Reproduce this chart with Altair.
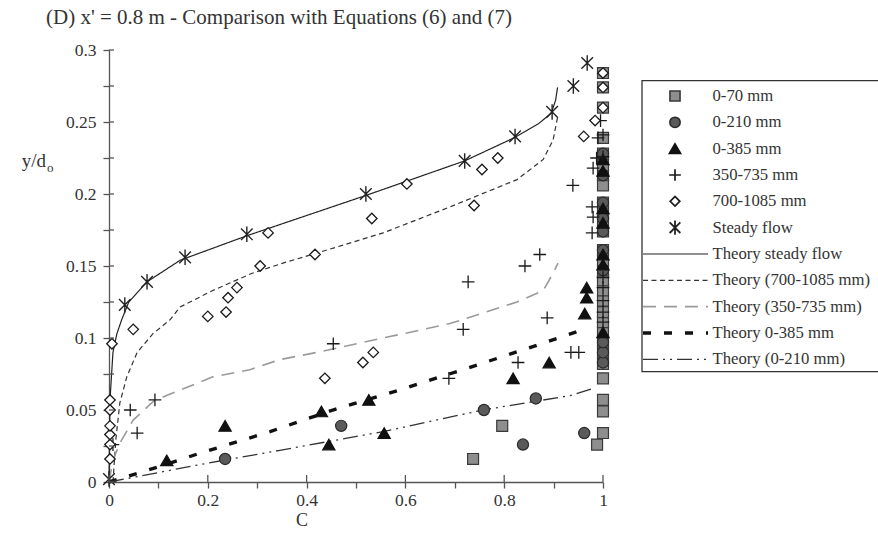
import altair as alt
import pandas as pd

# ---------------- measured profiles: concentration C vs depth y/d_o ----------------
series = ["0-70 mm", "0-210 mm", "0-385 mm", "350-735 mm", "700-1085 mm", "Steady flow"]

c_70 = [0.737, 0.796, 0.988, 1.0, 1.0, 1.0, 1.0, 1.0, 1.0, 1.0, 1.0, 1.0, 1.0, 1.0, 1.0, 1.0,
        1.0, 1.0, 1.0, 1.0, 1.0, 1.0, 1.0, 1.0, 1.0, 1.0, 1.0, 1.0, 1.0, 1.0, 1.0]
y_70 = [0.016, 0.039, 0.026, 0.034, 0.049, 0.057, 0.072, 0.082, 0.090, 0.097, 0.104, 0.111,
        0.118, 0.126, 0.133, 0.140, 0.147, 0.154, 0.161, 0.174, 0.180, 0.187, 0.194, 0.206,
        0.213, 0.220, 0.228, 0.239, 0.260, 0.274, 0.284]

c_210 = [0.235, 0.470, 0.759, 0.838, 0.864, 0.962, 1.0, 1.0, 1.0, 1.0, 1.0, 1.0, 1.0, 1.0,
         1.0, 1.0]
y_210 = [0.016, 0.039, 0.050, 0.026, 0.058, 0.034, 0.083, 0.090, 0.097, 0.147, 0.161, 0.174,
         0.183, 0.194, 0.213, 0.228]

c_385 = [0.117, 0.235, 0.430, 0.445, 0.526, 0.557, 0.818, 0.891, 0.967, 0.967, 0.963, 1.0,
         1.0, 1.0, 1.0, 1.0, 1.0, 1.0]
y_385 = [0.015, 0.039, 0.049, 0.026, 0.057, 0.034, 0.072, 0.083, 0.135, 0.128, 0.117, 0.104,
         0.151, 0.158, 0.180, 0.190, 0.216, 0.224]

c_350 = [0.008, 0.043, 0.057, 0.093, 0.454, 0.688, 0.717, 0.727, 0.828, 0.842, 0.872, 0.887,
         0.935, 0.951, 0.939, 0.978, 0.980, 0.978, 0.980, 0.987, 0.990, 0.995, 1.0, 1.0,
         1.0, 1.0, 1.0, 1.0, 1.0]
y_350 = [0.026, 0.050, 0.034, 0.057, 0.096, 0.072, 0.106, 0.139, 0.083, 0.150, 0.158, 0.114,
         0.090, 0.090, 0.206, 0.191, 0.184, 0.173, 0.218, 0.225, 0.239, 0.251, 0.241, 0.226,
         0.142, 0.135, 0.126, 0.118, 0.111]

c_700 = [0.002, 0.002, 0.002, 0.002, 0.002, 0.002, 0.006, 0.049, 0.200, 0.237, 0.241, 0.259,
         0.306, 0.322, 0.417, 0.437, 0.514, 0.535, 0.532, 0.603, 0.739, 0.755, 0.787, 0.961,
         0.984, 1.0, 1.0, 1.0]
y_700 = [0.016, 0.026, 0.033, 0.039, 0.050, 0.057, 0.096, 0.106, 0.115, 0.118, 0.128, 0.135,
         0.150, 0.173, 0.158, 0.072, 0.083, 0.090, 0.183, 0.207, 0.192, 0.217, 0.225, 0.240,
         0.251, 0.260, 0.274, 0.284]

c_sf = [0.0, 0.032, 0.077, 0.154, 0.279, 0.520, 0.720, 0.822, 0.897, 0.940, 0.968]
y_sf = [0.002, 0.123, 0.139, 0.156, 0.172, 0.200, 0.223, 0.240, 0.257, 0.275, 0.291]

# ---------------- theoretical curves, Equations (6) and (7) ----------------
theories = ["Theory steady flow", "Theory (700-1085 mm)", "Theory (350-735 mm)",
            "Theory 0-385 mm", "Theory (0-210 mm)"]

tc_sf = [0.0, 0.001, 0.002, 0.008, 0.016, 0.026, 0.040, 0.077, 0.144, 0.279, 0.520, 0.720,
         0.820, 0.870, 0.895, 0.904, 0.908]
ty_sf = [0.0, 0.030, 0.057, 0.090, 0.103, 0.113, 0.125, 0.139, 0.154, 0.171, 0.199, 0.223,
         0.239, 0.249, 0.256, 0.265, 0.274]

tc_700 = [0.008, 0.014, 0.022, 0.036, 0.057, 0.089, 0.123, 0.144, 0.210, 0.290, 0.352, 0.421,
          0.555, 0.690, 0.826, 0.879, 0.899, 0.909]
ty_700 = [0.0, 0.030, 0.055, 0.073, 0.090, 0.103, 0.1125, 0.1215, 0.133, 0.145, 0.152, 0.159,
          0.173, 0.191, 0.210, 0.224, 0.2375, 0.255]

tc_350 = [0.0, 0.008, 0.022, 0.049, 0.093, 0.109, 0.210, 0.285, 0.346, 0.421, 0.555, 0.690,
          0.790, 0.826, 0.879, 0.899, 0.909]
ty_350 = [0.0, 0.015, 0.027, 0.043, 0.057, 0.059, 0.073, 0.078, 0.085, 0.090, 0.100, 0.110,
          0.121, 0.125, 0.133, 0.145, 0.152]

tc_385 = [0.0, 0.100, 0.184, 0.326, 0.453, 0.589, 0.725, 0.858, 0.970]
ty_385 = [0.0, 0.0105, 0.020, 0.035, 0.050, 0.064, 0.079, 0.094, 0.107]

tc_210 = [0.0, 0.198, 0.346, 0.555, 0.757, 0.933, 0.980]
ty_210 = [0.0, 0.013, 0.022, 0.035, 0.050, 0.060, 0.065]

# axis tick positions
x_ticks = [0.0, 0.1, 0.2, 0.3, 0.4, 0.5, 0.6, 0.7, 0.8, 0.9, 1.0]
x_major = [0.0, 0.2, 0.4, 0.6, 0.8, 1.0]
y_ticks = [0.0, 0.025, 0.05, 0.075, 0.1, 0.125, 0.15, 0.175, 0.2, 0.225, 0.25, 0.275, 0.3]

# ---------------- styles ----------------
PLUS = "M-1,0H1M0,-1V1"
STAR = "M-0.75,-0.75L0.75,0.75M-0.75,0.75L0.75,-0.75M0,-1V1"

pt_shapes = ["square", "circle", "triangle-up", PLUS, "diamond", STAR]
pt_fills = ["#8e8e8e", "#5a5a5a", "#111111", "transparent", "#ffffff", "transparent"]
pt_strokes = ["#3a3a3a", "#2a2a2a", "#111111", "#1a1a1a", "#1a1a1a", "#222222"]
pt_sizes = [120, 125, 150, 160, 110, 240]
pt_widths = [1.2, 1.2, 1.2, 1.3, 1.3, 1.4]

ln_colors = ["#222222", "#333333", "#9a9a9a", "#111111", "#333333"]
ln_widths = [1.2, 1.2, 1.6, 3.4, 1.3]
ln_dashes = [[1, 0], [5, 3.5], [13, 8], [8, 13], [15, 5, 2, 5, 2, 5]]

FONT = "Liberation Serif"
INK = "#333333"
AX = "#555555"

# ---------------- tables ----------------
pt_rows = []
for name, cs, ys in zip(series, [c_70, c_210, c_385, c_350, c_700, c_sf],
                        [y_70, y_210, y_385, y_350, y_700, y_sf]):
    for c, y in zip(cs, ys):
        pt_rows.append({"series": name, "C": c, "y": y})
points_df = pd.DataFrame(pt_rows)

curve_tables = []
for name, cs, ys in zip(theories, [tc_sf, tc_700, tc_350, tc_385, tc_210],
                        [ty_sf, ty_700, ty_350, ty_385, ty_210]):
    curve_tables.append(pd.DataFrame({"C": cs, "y": ys, "k": list(range(len(cs)))}))

# ---------------- scales and axes ----------------
x_scale = alt.Scale(domain=[0, 1], nice=False, zero=False)
y_scale = alt.Scale(domain=[0, 0.3], nice=False)

axis_common = dict(domainColor=AX, domainWidth=1.3, tickColor=AX, tickWidth=1.3, tickSize=6,
                   labelFont=FONT, labelFontSize=17.5, labelColor=INK, grid=False,
                   labelOverlap=False, title=None)
x_axis = alt.Axis(values=x_ticks, labelPadding=3, labelFlush=False,
                  labelExpr="round(datum.value*10) % 2 == 0 ? format(datum.value, '~g') : ''",
                  **axis_common)
y_axis = alt.Axis(values=y_ticks, labelPadding=7, labelFlush=False,
                  labelExpr="round(datum.value*1000) % 50 == 0 ? format(datum.value, '~g') : ''",
                  **axis_common)

X = alt.X("C:Q", scale=x_scale, axis=x_axis)
Y = alt.Y("y:Q", scale=y_scale, axis=y_axis)

# one line layer per theoretical curve, each with its own dash pattern and weight
curve_layers = []
for j, tbl in enumerate(curve_tables):
    curve_layers.append(
        alt.Chart(tbl).mark_line(stroke=ln_colors[j], strokeWidth=ln_widths[j],
                                 strokeDash=ln_dashes[j], clip=False).encode(
            x=X, y=Y, order="k:Q"))

# one point layer per measured series, drawn in legend order
point_layers = []
for i, name in enumerate(series):
    tbl = points_df[points_df["series"] == name]
    point_layers.append(
        alt.Chart(tbl).mark_point(shape=pt_shapes[i], fill=pt_fills[i], stroke=pt_strokes[i],
                                  size=pt_sizes[i], strokeWidth=pt_widths[i], filled=True,
                                  opacity=1, clip=False).encode(x=X, y=Y))

# tick marks drawn on the inner side of the axes, so ticks cross the axis lines
y_in = alt.Chart(pd.DataFrame({"y": y_ticks})).mark_rule(color=AX, strokeWidth=1.3).encode(
    y=Y, x=alt.value(0), x2=alt.value(5))
x_in = alt.Chart(pd.DataFrame({"C": x_major})).mark_rule(color=AX, strokeWidth=1.3).encode(
    x=X, y=alt.value(432), y2=alt.value(425))

one = alt.Data(values=[{"k": 0}])


def label(text, x, y, size=16.7, align="left", baseline="alphabetic"):
    return alt.Chart(one).mark_text(text=text, font=FONT, fontSize=size, color=INK,
                                    align=align, baseline=baseline).encode(
        x=alt.value(x), y=alt.value(y))


texts = [
    label("(D) x' = 0.8 m - Comparison with Equations (6) and (7)", -63, -26, size=21),
    label("y/d", -63, 117, size=19, align="right"),
    label("o", -62, 122, size=13),
    label("C", 193, 471, size=18, align="center", baseline="middle"),
]

# ---------------- legend panel ----------------
legend_box = alt.Chart(one).mark_rect(fill="white", stroke="#333333", strokeWidth=1.3).encode(
    x=alt.value(533), x2=alt.value(790), y=alt.value(30.7), y2=alt.value(321.7))

ROW0, STEP = 46.0, 26.33
legend_layers = [legend_box]
for i, name in enumerate(series):
    yy = ROW0 + STEP * i
    legend_layers.append(
        alt.Chart(one).mark_point(shape=pt_shapes[i], fill=pt_fills[i], stroke=pt_strokes[i],
                                  size=pt_sizes[i] * 0.85, strokeWidth=pt_widths[i] + 0.4,
                                  filled=True, opacity=1).encode(
            x=alt.value(566), y=alt.value(yy)))
    legend_layers.append(label(name, 603.5, yy, align="left", baseline="middle"))
for j, name in enumerate(theories):
    yy = ROW0 + STEP * (len(series) + j)
    legend_layers.append(
        alt.Chart(one).mark_rule(stroke=ln_colors[j], strokeWidth=ln_widths[j],
                                 strokeDash=ln_dashes[j]).encode(
            x=alt.value(534), x2=alt.value(599), y=alt.value(yy)))
    legend_layers.append(label(name, 603.5, yy, align="left", baseline="middle"))

chart = alt.layer(*curve_layers, *point_layers, y_in, x_in, *texts, *legend_layers).properties(
    width=494, height=432,
    padding={"left": 109, "top": 50, "right": 275, "bottom": 53},
    autosize=alt.AutoSizeParams(type="none"),
    background="white",
).configure_view(stroke=None)

chart.save("out.html", embed_options={"renderer": "svg", "actions": False})
